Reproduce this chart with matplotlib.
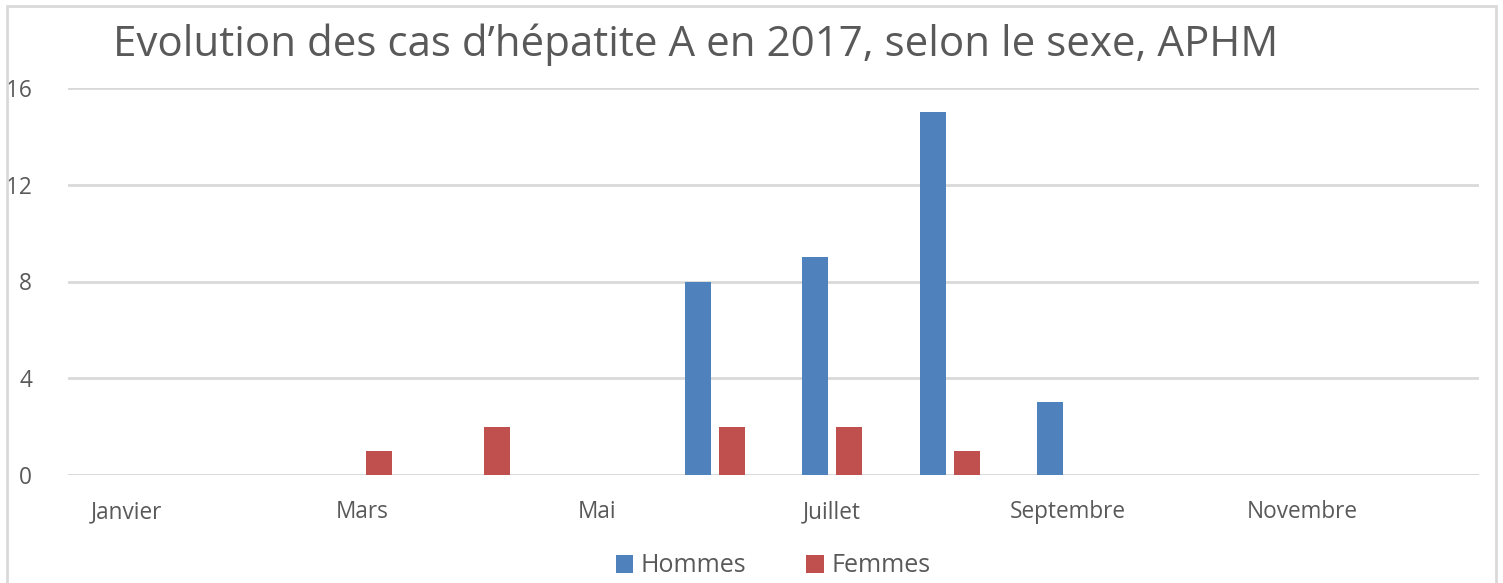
import matplotlib.pyplot as plt
from matplotlib.patches import Rectangle
import numpy as np

plt.rcParams['font.family'] = ['Open Sans', 'DejaVu Sans']

mois = ['Janvier', 'Février', 'Mars', 'Avril', 'Mai', 'Juin', 'Juillet',
        'Août', 'Septembre', 'Octobre', 'Novembre', 'Décembre']
hommes = [0, 0, 0, 0, 0, 8, 9, 15, 3, 0, 0, 0]
femmes = [0, 0, 1, 2, 0, 2, 2, 1, 0, 0, 0, 0]
y_ticks = [0, 4, 8, 12, 16]

bleu = '#4F81BD'
rouge = '#C0504D'
gris_texte = '#595959'
gris_ligne = '#D9D9D9'

W, H = 1503, 583
fig = plt.figure(figsize=(W / 100, H / 100), dpi=100)
ax = fig.add_axes([68 / W, 1 - 475 / H, (1479 - 68) / W, (475 - 88) / H])

x = np.arange(len(mois))
largeur = 0.22
ax.bar(x - 0.145, hommes, largeur, color=bleu, label='Hommes', zorder=3)
ax.bar(x + 0.145, femmes, largeur, color=rouge, label='Femmes', zorder=3)

ax.set_xlim(-0.5, len(mois) - 0.5)
ax.set_ylim(0, 16)
ax.set_yticks(y_ticks)
ax.set_xticks(x[::2])
ax.set_xticklabels(mois[::2])
ax.tick_params(axis='both', length=0, labelsize=16.3, colors=gris_texte)
ax.tick_params(axis='x', pad=18)
ax.tick_params(axis='y', pad=26)
ax.grid(axis='y', color=gris_ligne, linewidth=2, zorder=0)
ax.set_axisbelow(True)
for s in ax.spines.values():
    s.set_visible(False)
ax.axhline(0, color=gris_ligne, linewidth=2, zorder=1)

fig.text(113 / W, 1 - 45 / H, "Evolution des cas d\u2019hépatite A en 2017, selon le sexe, APHM",
         fontsize=30.3, color=gris_texte, ha='left', va='center')

leg = fig.legend(loc='center', bbox_to_anchor=(773 / W, 1 - 566 / H), ncol=2,
                 frameon=False, fontsize=18, handlelength=0.7, handleheight=0.7,
                 handletextpad=0.3, columnspacing=2.4)
for t in leg.get_texts():
    t.set_color(gris_texte)

# cadre du graphique
fig.patches.append(Rectangle((7 / W, -0.05), (1496 - 7) / W, 1.05 - 6 / H,
                             transform=fig.transFigure, fill=False,
                             edgecolor=gris_ligne, linewidth=2))

fig.savefig('out.png', dpi=100)
